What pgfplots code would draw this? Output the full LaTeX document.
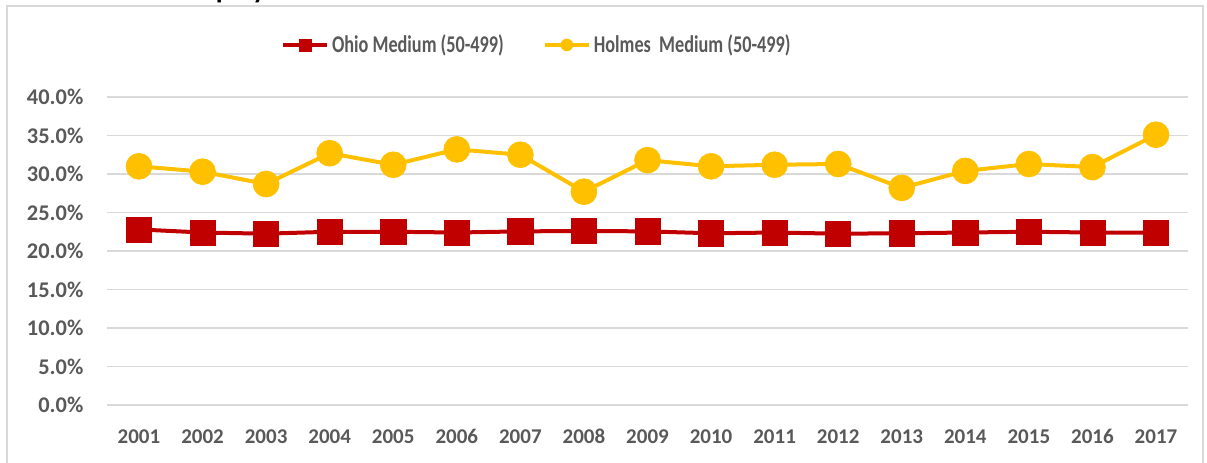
\documentclass[border=0pt]{standalone}
\usepackage{pgfplots}
\pgfplotsset{compat=1.18}
\usepackage{fontspec}
\usepackage{graphicx}
\setmainfont{Carlito}
\definecolor{ohio}{HTML}{C00000}
\definecolor{holmes}{HTML}{FFC000}
\definecolor{txt}{HTML}{595959}
\definecolor{gridc}{HTML}{D9D9D9}
\begin{document}
\begin{tikzpicture}
\useasboundingbox (0,0) rectangle (603.5pt,231pt);
\draw[gridc, line width=0.75pt] (3.5pt,-5pt) rectangle (601.5pt,228pt);
\node[anchor=base west, font=\bfseries\fontsize{14}{16}\selectfont, inner sep=0] at (89.5pt,231.6pt) {Employment};
\begin{axis}[
  at={(53.6pt,28.5pt)}, anchor=south west,
  scale only axis, width=540.3pt, height=154pt,
  xmin=0.5, xmax=17.5, ymin=0, ymax=40,
  xtick={1,2,3,4,5,6,7,8,9,10,11,12,13,14,15,16,17},
  xticklabels={2001,2002,2003,2004,2005,2006,2007,2008,2009,2010,2011,2012,2013,2014,2015,2016,2017},
  ytick={0,5,10,15,20,25,30,35,40},
  yticklabels={0.0\%,5.0\%,10.0\%,15.0\%,20.0\%,25.0\%,30.0\%,35.0\%,40.0\%},
  ymajorgrids, grid style={gridc, line width=0.75pt},
  axis line style={draw=none}, major tick length=0,
  tick label style={text=txt},
  x tick label style={font=\bfseries\fontsize{10.5}{12}\selectfont, yshift=-8.6pt},
  y tick label style={font=\bfseries\fontsize{11.2}{13}\selectfont, xshift=-8.4pt},
  legend columns=2,
  legend style={at={(0.398,1.169)}, anchor=center, draw=none, fill=none,
    font=\bfseries\fontsize{12}{14}\selectfont, text=txt,
    nodes={inner sep=1.5pt},
    /tikz/every even column/.append style={column sep=18pt}},
  legend image code/.code={\draw[mark repeat=2,mark phase=2,mark size=3pt] plot coordinates {(0pt,0pt) (11pt,0pt) (22pt,0pt)};},
  clip=false,
]
\addplot[ohio, line width=2pt, mark=square*, mark size=6.3pt, mark options={fill=ohio, draw=ohio, line width=0.3pt}] coordinates {
(1,22.8) (2,22.4) (3,22.25) (4,22.5) (5,22.5) (6,22.4) (7,22.55) (8,22.6) (9,22.55)
(10,22.3) (11,22.4) (12,22.25) (13,22.3) (14,22.4) (15,22.5) (16,22.4) (17,22.4)};
\addlegendentry{\scalebox{0.76}[1]{Ohio Medium (50-499)}}
\addplot[holmes, line width=2pt, mark=*, mark size=6.5pt, mark options={fill=holmes, draw=holmes, line width=0.3pt}] coordinates {
(1,31.0) (2,30.3) (3,28.7) (4,32.7) (5,31.2) (6,33.2) (7,32.5) (8,27.7) (9,31.8)
(10,31.0) (11,31.2) (12,31.3) (13,28.2) (14,30.4) (15,31.3) (16,30.9) (17,35.1)};
\addlegendentry{\scalebox{0.76}[1]{Holmes\ \ Medium (50-499)}}
\end{axis}
\end{tikzpicture}
\end{document}
